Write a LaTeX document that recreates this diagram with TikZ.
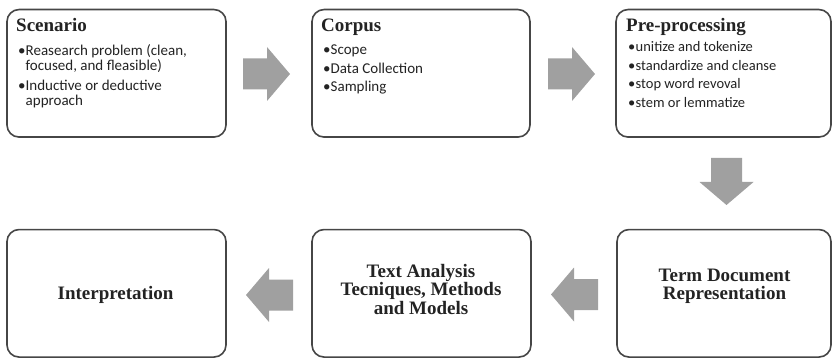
\documentclass[tikz,border=0pt]{standalone}
\usepackage{fontspec}
\setmainfont{Liberation Serif}
\newfontfamily\bulfont{Carlito}
\definecolor{arrowgray}{RGB}{160,160,160}
\definecolor{boxline}{RGB}{70,70,70}
\definecolor{txt}{RGB}{35,35,35}
\newcommand{\bt}[1]{\makebox[7.5pt][l]{•}#1}
\tikzset{
  box/.style={draw=boxline, line width=1.6pt, rounded corners=12pt, fill=white, inner sep=0pt},
  ttl/.style={anchor=base west, inner sep=0pt, font=\fontsize{19}{19}\selectfont\bfseries, text=txt},
  ctr/.style={anchor=base, inner sep=0pt, align=center, font=\fontsize{19}{16.5}\selectfont\bfseries, text=txt},
  bul/.style={anchor=base west, inner sep=0pt, font=\fontsize{15}{15}\bulfont, text=txt},
  bulsm/.style={anchor=base west, inner sep=0pt, font=\fontsize{14.5}{14.5}\bulfont, text=txt},
  blockarrow/.pic={\fill[arrowgray] (-23.5,-15.5) -- (0.5,-15.5) -- (0.5,-27) -- (23.5,0) -- (0.5,27) -- (0.5,15.5) -- (-23.5,15.5) -- cycle;}
}
\begin{document}
\begin{tikzpicture}[x=1pt, y=-1pt]
\useasboundingbox (0,0) rectangle (832,358);
% boxes
\node[box, minimum width=219, minimum height=127.5] (b1) at (116.5,73.3) {};
\node[box, minimum width=218, minimum height=127.5] (b2) at (421,73.3) {};
\node[box, minimum width=215, minimum height=127.5] (b3) at (723.5,73.3) {};
\node[box, minimum width=219, minimum height=127.5] (b6) at (116.5,293.3) {};
\node[box, minimum width=219, minimum height=127.5] (b5) at (421.5,293.3) {};
\node[box, minimum width=214, minimum height=127.5] (b4) at (724,293.3) {};
% Scenario
\node[ttl] (s0) at (16,32) {Scenario};
\node[bul] (s1) at (18,56) {\bt{Reasearch problem (clean,}};
\node[bul] (s2) at (25.5,71) {focused, and fleasible)};
\node[bul] (s3) at (18,91) {\bt{Inductive or deductive}};
\node[bul] (s4) at (25.5,106) {approach};
% Corpus
\node[ttl] (c0) at (321,32) {Corpus};
\node[bul] (c1) at (323,55) {\bt{Scope}};
\node[bul] (c2) at (323,73.5) {\bt{Data Collection}};
\node[bul] (c3) at (323,92) {\bt{Sampling}};
% Pre-processing
\node[ttl] (p0) at (626,32) {Pre-processing};
\node[bulsm] (p1) at (628,52) {\bt{unitize and tokenize}};
\node[bulsm] (p2) at (628,70.5) {\bt{standardize and cleanse}};
\node[bulsm] (p3) at (628,89) {\bt{stop word revoval}};
\node[bulsm] (p4) at (628,107.5) {\bt{stem or lemmatize}};
% bottom texts (base = last line)
\node[ctr, font=\fontsize{19}{17.5}\selectfont\bfseries] (d1) at (724.5,299) {Term Document\\Representation};
\node[ctr] (a1) at (421,314) {Text Analysis\\Tecniques, Methods\\and Models};
\node[ctr] (i1) at (115.5,299) {Interpretation};
% arrows
\pic at (266.5,74) {blockarrow};
\pic at (571.5,74) {blockarrow};
\pic[rotate=-90] at (726.5,181.5) {blockarrow};
\pic[rotate=180] at (574.5,294.5) {blockarrow};
\pic[rotate=180] at (269.5,295) {blockarrow};
\end{tikzpicture}
\end{document}
